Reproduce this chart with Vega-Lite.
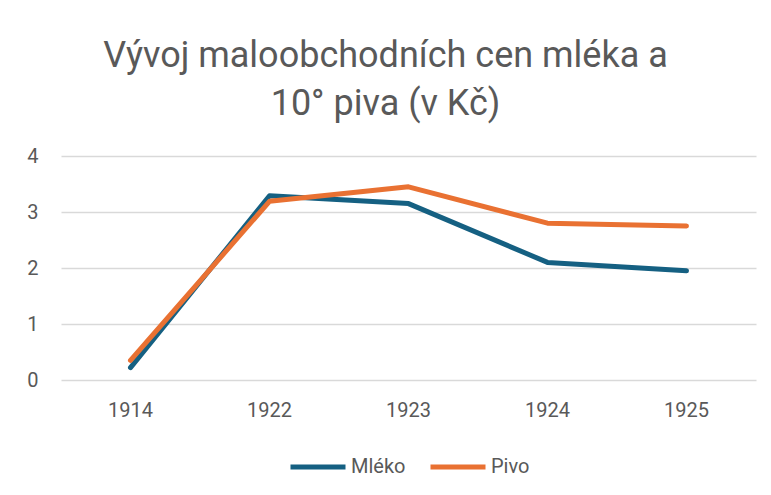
{
  "$schema": "https://vega.github.io/schema/vega-lite/v6.json",
  "autosize": {"type": "none"},
  "width": 695,
  "height": 224,
  "padding": {"left": 61, "top": 156, "right": 15, "bottom": 115},
  "background": "white",
  "title": {
    "text": ["Vývoj maloobchodních cen mléka a", "10° piva (v Kč)"],
    "anchor": "middle",
    "dx": -23,
    "offset": 23,
    "fontSize": 36,
    "font": "Roboto",
    "fontWeight": "normal",
    "color": "#595959",
    "lineHeight": 48
  },
  "data": {
    "values": [
      {"year": "1914", "series": "Mléko", "value": 0.22},
      {"year": "1922", "series": "Mléko", "value": 3.29},
      {"year": "1923", "series": "Mléko", "value": 3.15},
      {"year": "1924", "series": "Mléko", "value": 2.1},
      {"year": "1925", "series": "Mléko", "value": 1.95},
      {"year": "1914", "series": "Pivo", "value": 0.35},
      {"year": "1922", "series": "Pivo", "value": 3.19},
      {"year": "1923", "series": "Pivo", "value": 3.45},
      {"year": "1924", "series": "Pivo", "value": 2.8},
      {"year": "1925", "series": "Pivo", "value": 2.75}
    ]
  },
  "mark": {"type": "line", "strokeWidth": 5, "strokeCap": "round", "strokeJoin": "round"},
  "encoding": {
    "x": {
      "field": "year",
      "type": "ordinal",
      "scale": {"type": "band", "paddingInner": 0, "paddingOuter": 0},
      "axis": {
        "title": null,
        "labelAngle": 0,
        "ticks": false,
        "domain": false,
        "grid": false,
        "labelPadding": 20,
        "labelFontSize": 20,
        "labelFont": "Roboto",
        "labelColor": "#595959"
      }
    },
    "y": {
      "field": "value",
      "type": "quantitative",
      "scale": {"domain": [0, 4]},
      "axis": {
        "title": null,
        "values": [0, 1, 2, 3, 4],
        "ticks": false,
        "domain": false,
        "gridColor": "#d9d9d9",
        "gridWidth": 1.5,
        "labelPadding": 23,
        "labelFontSize": 20,
        "labelFont": "Roboto",
        "labelColor": "#595959"
      }
    },
    "color": {
      "field": "series",
      "type": "nominal",
      "scale": {"domain": ["Mléko", "Pivo"], "range": ["#156082", "#E97132"]},
      "legend": {
        "title": null,
        "orient": "bottom",
        "direction": "horizontal",
        "symbolType": "stroke",
        "symbolSize": 3025,
        "symbolStrokeWidth": 5,
        "labelFontSize": 20,
        "labelFont": "Roboto",
        "labelColor": "#595959",
        "columnPadding": 14,
        "labelOffset": 3,
        "offset": 17
      }
    }
  },
  "config": {
    "view": {"stroke": null},
    "legend": {"layout": {"bottom": {"anchor": "middle"}}}
  }
}
